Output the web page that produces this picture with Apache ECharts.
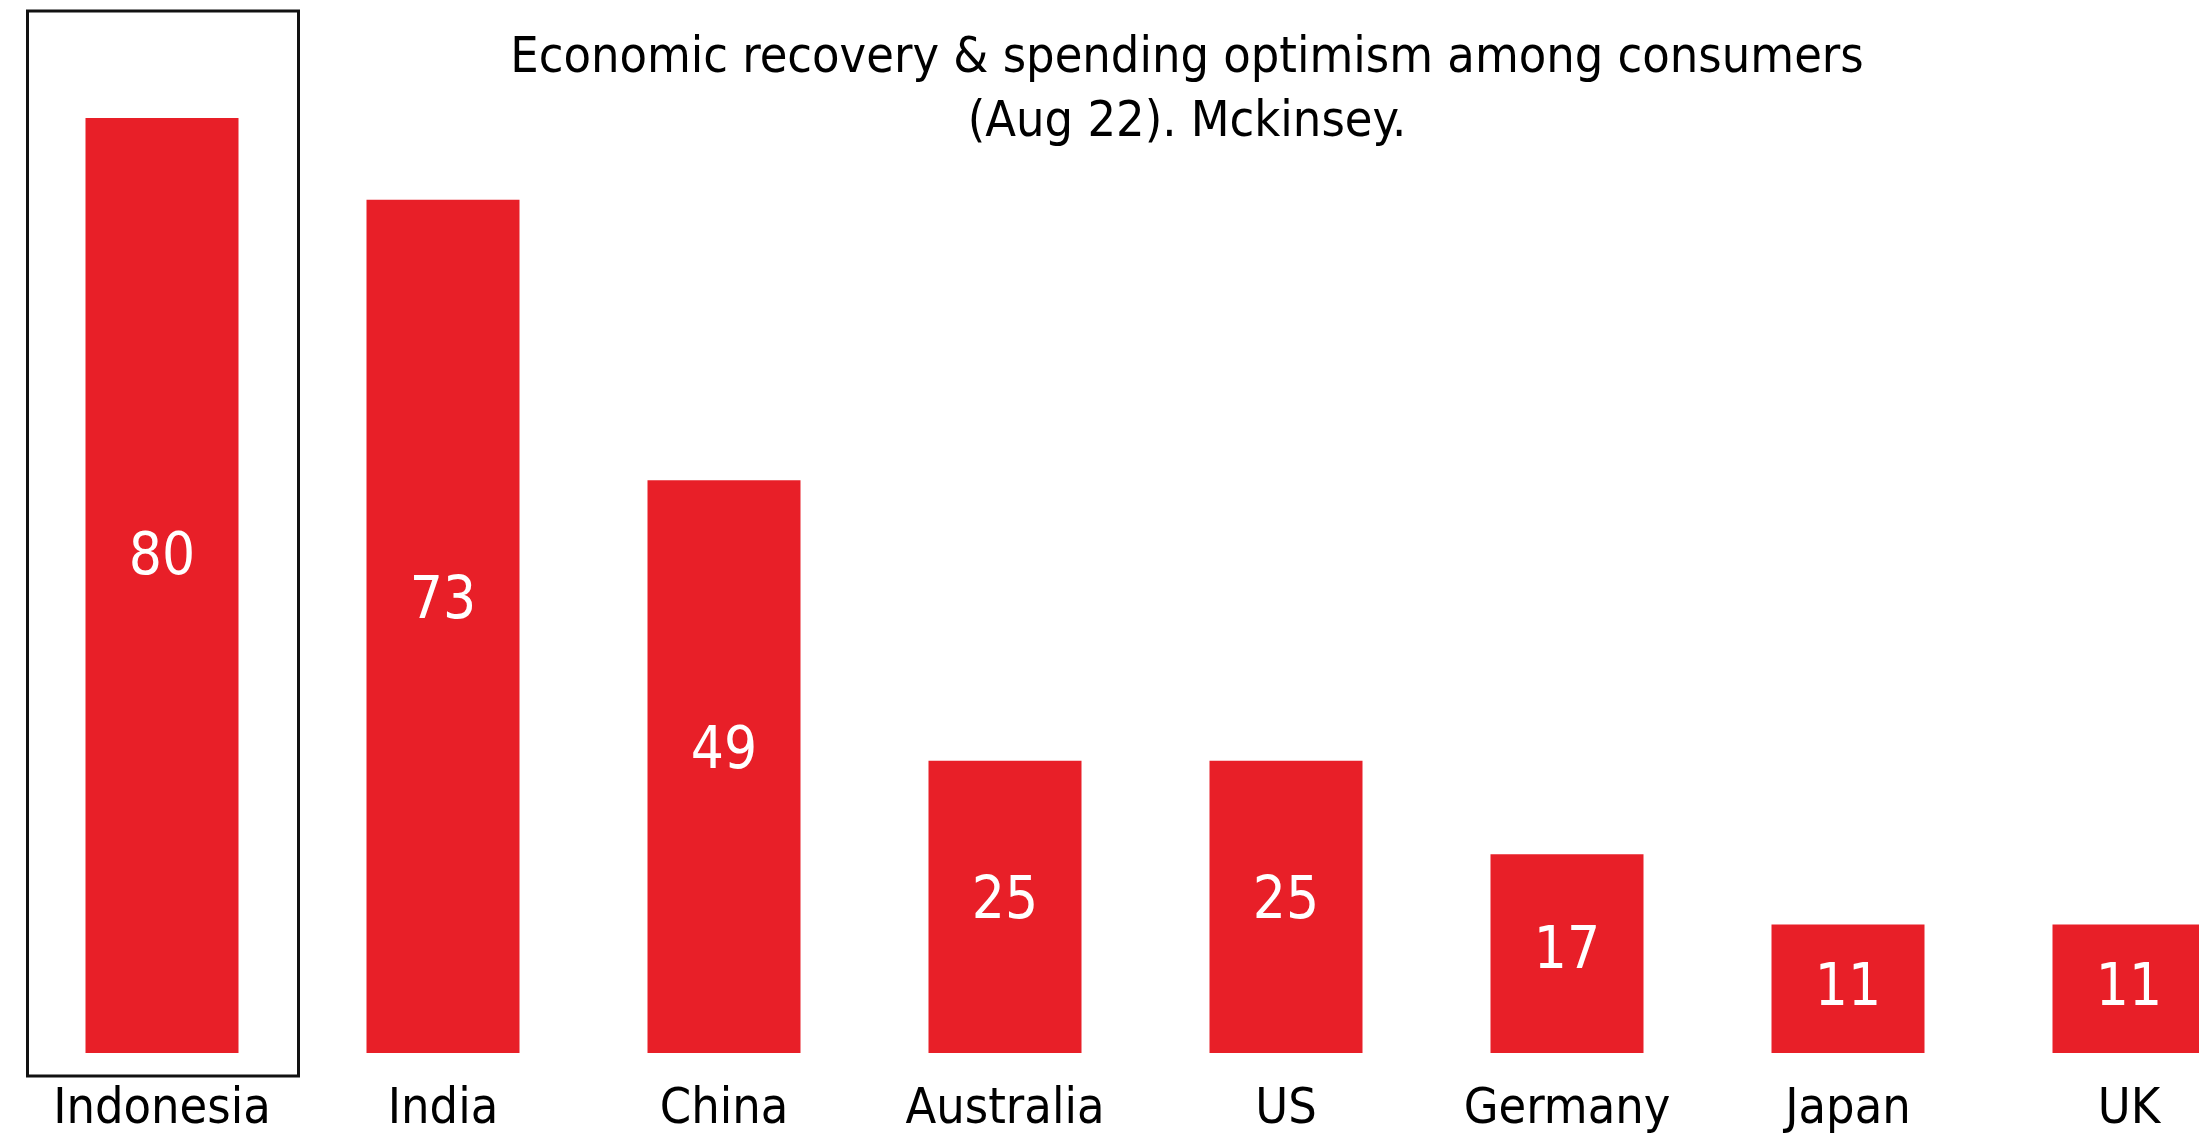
<!DOCTYPE html>
<html>
<head>
<meta charset="utf-8">
<script src="https://cdn.jsdelivr.net/npm/echarts@6/dist/echarts.min.js"></script>
<style>html,body{margin:0;padding:0;background:#fff;}#c{width:2199px;height:1145px;}</style>
</head>
<body>
<div id="c"></div>
<script>
var categories = ['Indonesia', 'India', 'China', 'Australia', 'US', 'Germany', 'Japan', 'UK'];
var values = [80, 73, 49, 25, 25, 17, 11, 11];
var highlighted = ['Indonesia'];
var titleText = 'Economic recovery & spending optimism among consumers\n(Aug 22). Mckinsey.';

var FONT = "'Liberation Sans Narrow', 'Arial Narrow', 'DejaVu Sans Condensed', sans-serif";
var chart = echarts.init(document.getElementById('c'));
chart.setOption({
  backgroundColor: '#ffffff',
  animation: false,
  title: {
    text: titleText,
    left: 1182, textAlign: 'center', top: 22,
    textStyle: { fontFamily: FONT, fontSize: 50, fontWeight: 'normal', color: '#000', lineHeight: 64 }
  },
  grid: { left: 21.5, width: 2248, top: 118, bottom: 92, containLabel: false, outerBoundsMode: 'none' },
  xAxis: {
    type: 'category', data: categories,
    axisLine: { show: false }, axisTick: { show: false },
    axisLabel: { fontFamily: FONT, fontSize: 50, color: '#000', margin: 32, interval: 0 }
  },
  yAxis: {
    type: 'value', min: 0, max: 80,
    show: false, splitLine: { show: false }
  },
  series: [
    {
      type: 'bar', data: values, barWidth: 153,
      itemStyle: { color: '#e81f28' },
      label: {
        show: true, position: ['50%', '46.5%'], offset: [0, 6], align: 'center', verticalAlign: 'middle',
        color: '#fff', fontFamily: FONT, fontSize: 58
      }
    },
    {
      type: 'custom', clip: false, silent: true,
      data: highlighted.map(function (c) { return [c, values[categories.indexOf(c)]]; }),
      renderItem: function (params, api) {
        var top = api.coord([api.value(0), api.value(1)]);
        var base = api.coord([api.value(0), 0]);
        var band = api.size([1, 0])[0];
        var x0 = top[0] - band / 2 + 6, x1 = top[0] + band / 2 - 4;
        var y0 = top[1] - 107, y1 = base[1] + 23;
        return {
          type: 'rect',
          shape: { x: x0, y: y0, width: x1 - x0, height: y1 - y0 },
          style: { fill: null, stroke: '#111', lineWidth: 3 }
        };
      }
    }
  ]
});
</script>
</body>
</html>
